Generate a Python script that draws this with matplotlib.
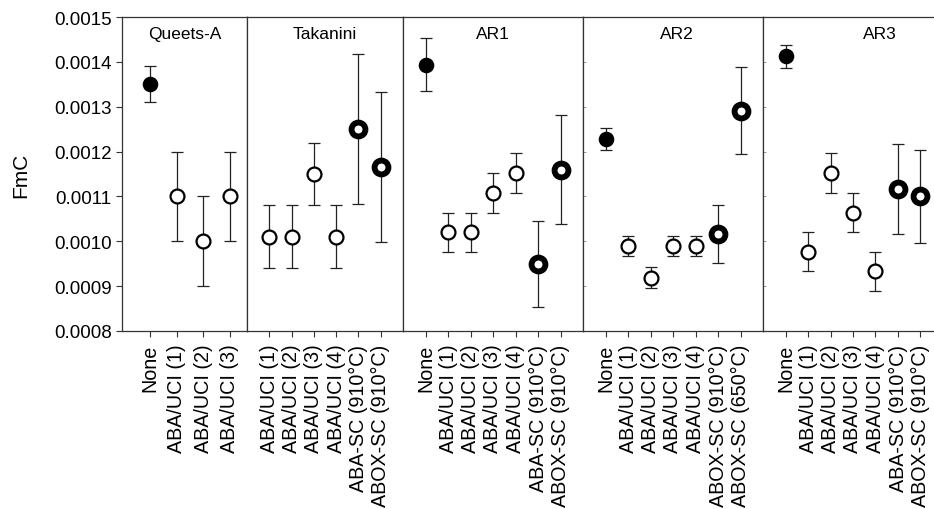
import numpy as np
import matplotlib
matplotlib.use('Agg')
import matplotlib.pyplot as plt

plt.rcParams['font.family'] = ['Liberation Sans', 'DejaVu Sans']

# data
panels = ['Queets-A', 'Takanini', 'AR1', 'AR2', 'AR3']

queets_cats = ['None', 'ABA/UCI (1)', 'ABA/UCI (2)', 'ABA/UCI (3)']
queets_fmc = [0.00135, 0.00110, 0.00100, 0.00110]
queets_err = [0.00004, 0.00010, 0.00010, 0.00010]

takanini_cats = ['ABA/UCI (1)', 'ABA/UCI (2)', 'ABA/UCI (3)', 'ABA/UCI (4)',
                 'ABA-SC (910°C)', 'ABOX-SC (910°C)']
takanini_fmc = [0.00101, 0.00101, 0.00115, 0.00101, 0.00125, 0.001165]
takanini_err = [0.00007, 0.00007, 0.00007, 0.00007, 0.000167, 0.000167]

ar1_cats = ['None', 'ABA/UCI (1)', 'ABA/UCI (2)', 'ABA/UCI (3)', 'ABA/UCI (4)',
            'ABA-SC (910°C)', 'ABOX-SC (910°C)']
ar1_fmc = [0.001394, 0.00102, 0.00102, 0.001108, 0.001152, 0.00095, 0.00116]
ar1_err = [0.00006, 0.000044, 0.000044, 0.000045, 0.000044, 0.000096, 0.000122]

ar2_cats = ['None', 'ABA/UCI (1)', 'ABA/UCI (2)', 'ABA/UCI (3)', 'ABA/UCI (4)',
            'ABOX-SC (910°C)', 'ABOX-SC (650°C)']
ar2_fmc = [0.001228, 0.000989, 0.000919, 0.000989, 0.000989, 0.001017, 0.001291]
ar2_err = [0.000024, 0.000022, 0.000023, 0.000022, 0.000022, 0.000065, 0.000097]

ar3_cats = ['None', 'ABA/UCI (1)', 'ABA/UCI (2)', 'ABA/UCI (3)', 'ABA/UCI (4)',
            'ABA-SC (910°C)', 'ABOX-SC (910°C)']
ar3_fmc = [0.001412, 0.000977, 0.001152, 0.001064, 0.000933, 0.001117, 0.00110]
ar3_err = [0.000026, 0.000044, 0.000044, 0.000044, 0.000044, 0.00010, 0.000104]

all_cats = [queets_cats, takanini_cats, ar1_cats, ar2_cats, ar3_cats]
all_fmc = [queets_fmc, takanini_fmc, ar1_fmc, ar2_fmc, ar3_fmc]
all_err = [queets_err, takanini_err, ar1_err, ar2_err, ar3_err]

W, H = 934, 510
fig = plt.figure(figsize=(W / 100, H / 100), dpi=100)

# panel edges in pixels (last panel runs past the right edge, as in the original)
edges = [(122, 247), (247, 403), (403, 583), (583, 763), (763, 943)]
xlims = [(-0.05, 4.64), (0, 7), (0, 8), (0, 8), (0, 8)]
title_x = [0.5, 0.5, 0.5, 0.52, 0.65]
top_px, bot_px = 18, 332

spine_col = '#333333'
axes = []
for i, name in enumerate(panels):
    x0, x1 = edges[i]
    ax = fig.add_axes([x0 / W, 1 - bot_px / H, (x1 - x0) / W, (bot_px - top_px) / H])
    axes.append(ax)
    cats = all_cats[i]
    x = np.arange(1, len(cats) + 1)
    # error bars first, markers on top
    ax.errorbar(x, all_fmc[i], yerr=all_err[i], fmt='none', ecolor='#222222',
                elinewidth=0.9, capsize=4, capthick=0.9, zorder=2)
    for xi, c, v in zip(x, cats, all_fmc[i]):
        if c == 'None':
            mfc, mew = 'black', 1.2
        elif 'SC' in c:
            mfc, mew = 'white', 4.2
        else:
            mfc, mew = 'white', 1.6
        ax.plot(xi, v, 'o', ms=10, mfc=mfc, mec='black', mew=mew, zorder=3)
    ax.set_xlim(*xlims[i])
    ax.set_ylim(0.0008, 0.0015)
    ax.set_xticks(x)
    ax.set_xticklabels(cats, rotation=90, fontsize=14.2)
    ax.tick_params(axis='x', direction='out', length=4, width=0.8, color=spine_col, pad=5)
    ax.set_yticks(np.arange(0.0008, 0.00151, 0.0001))
    if i == 0:
        ax.set_yticklabels(['%.4f' % t for t in np.arange(0.0008, 0.00151, 0.0001)],
                           fontsize=13.5)
        ax.tick_params(axis='y', direction='out', length=4.5, width=0.8, color=spine_col, pad=3)
        ax.set_ylabel('FmC', fontsize=15, labelpad=17)
    else:
        ax.set_yticklabels([])
        if i >= 3:
            ax.tick_params(axis='y', direction='in', length=2, width=0.6, color='#888888')
        else:
            ax.tick_params(axis='y', length=0)
    for s in ax.spines.values():
        s.set_color(spine_col)
        s.set_linewidth(0.9)
    ax.text(title_x[i], 1 - 17 / (bot_px - top_px), name, transform=ax.transAxes,
            ha='center', va='center', fontsize=12.5)

fig.savefig('out.png', dpi=100)
